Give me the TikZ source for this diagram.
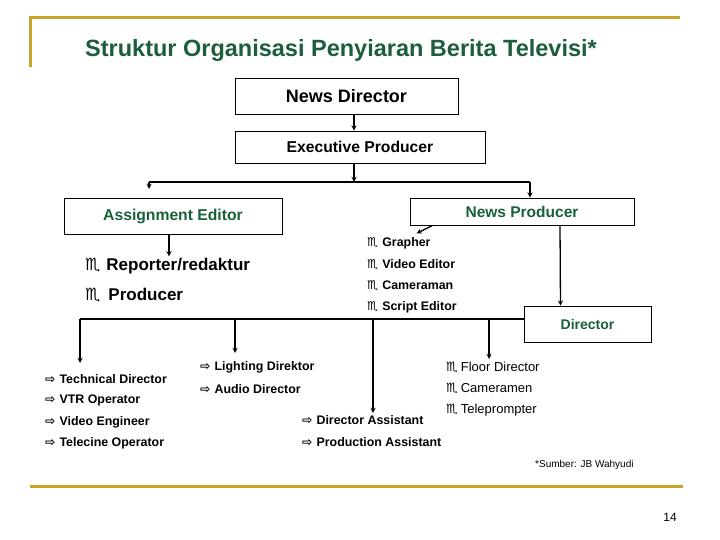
\documentclass[tikz,border=0pt]{standalone}
\usepackage{fontspec}
\setmainfont{Liberation Sans}
\newfontfamily\symfont{DejaVu Sans}
\usetikzlibrary{positioning}
\definecolor{titlegreen}{RGB}{28,94,60}
\definecolor{boxgreen}{RGB}{24,96,58}
\definecolor{framegold}{RGB}{201,163,42}
\newcommand{\scorp}{{\symfont\char"264F}}
\newcommand{\warr}{{\symfont\char"21E8}}
\newcommand{\fsz}[1]{\fontsize{#1}{#1}\selectfont}

\begin{document}
\begin{tikzpicture}[x=1pt, y=-1pt,
    boxnode/.style={rectangle, draw=black, line width=0.8pt, inner sep=0pt},
    plainline/.style={line width=1.3pt},
    conn/.style={line width=1.3pt, -stealth},
    bigitem/.style={anchor=west, inner sep=0pt, font=\bfseries\fsz{17}},
    smallitem/.style={anchor=west, inner sep=0pt, font=\bfseries\fsz{12.4}},
    flooritem/.style={anchor=west, inner sep=0pt, font=\fsz{13}}]

    \useasboundingbox (0,0) rectangle (720,540);

    % frame and title
    \draw[framegold, line width=3pt] (30,67) -- (30,18) -- (680,18);
    \draw[framegold, line width=3pt] (30,486) -- (683,486);
    \node[titlegreen, font=\bfseries\fsz{23.5}] (title) at (341,50) {Struktur Organisasi Penyiaran Berita Televisi*};

    % top of the chart
    \node[boxnode, minimum width=223pt, minimum height=36pt, font=\bfseries\fsz{18}] (newsdir) at (346.5,96) {News Director};
    \node[boxnode, minimum width=250pt, minimum height=32pt, font=\bfseries\fsz{15.7}] (execprod) at (360,147) {Executive Producer};
    \node[boxnode, minimum width=218pt, minimum height=36pt, text=boxgreen, font=\bfseries\fsz{15.7}] (assign) at (173,216) {Assignment Editor};
    \node[boxnode, minimum width=224pt, minimum height=27pt, text=boxgreen, font=\bfseries\fsz{15.5}] (newsprod) at (522,211.5) {News Producer};
    \node[boxnode, minimum width=127pt, minimum height=36pt, text=boxgreen, font=\bfseries\fsz{14}] (director) at (587.5,324) {Director};

    \coordinate (spine) at (354,182);
    \coordinate (brl) at (149,182);
    \coordinate (brr) at (530,182);
    \draw[conn] (newsdir.south -| spine) -- (execprod.north -| spine);
    \draw[conn] (execprod.south -| spine) -- (spine);
    \draw[plainline] (brl) -- (brr);
    \draw[conn] (brl) -- ++(0,7);
    \draw[conn] (brr) -- (brr |- newsprod.north);

    % assignment editor staff
    \node[bigitem] (reporter) at (85,266) {\scorp\hspace{6pt}Reporter/redaktur};
    \node[bigitem] (producer) at (85,295) {\scorp\hspace{8pt}Producer};
    \draw[conn] ([xshift=-4pt]assign.south) -- ++(0,22);

    % news producer staff
    \node[smallitem] (grapher) at (367,243) {\scorp\hspace{4pt}Grapher};
    \node[smallitem, below=21.5pt of grapher.west, anchor=west] (videoed) {\scorp\hspace{4pt}Video Editor};
    \node[smallitem, below=21.5pt of videoed.west, anchor=west] (camman) {\scorp\hspace{4pt}Cameraman};
    \node[smallitem, below=21.5pt of camman.west, anchor=west] (scripted) {\scorp\hspace{4pt}Script Editor};
    \draw[conn] ([xshift=23pt]newsprod.south west) -- ++(-16,8);
    \draw[conn] ([xshift=38pt]newsprod.south) -- ([xshift=-27pt]director.north);

    % director bar
    \coordinate (barl) at (80,319);
    \coordinate (bar2) at (235,319);
    \coordinate (bar3) at (373,319);
    \coordinate (bar4) at (489,319);
    \draw[plainline] (director.west |- barl) -- (barl);
    \draw[conn] (barl) -- ++(0,44);
    \draw[conn] (bar2) -- ++(0,34);
    \draw[conn] (bar3) -- ++(0,94);
    \draw[conn] (bar4) -- ++(0,40);

    % technical crew
    \node[smallitem] (techdir) at (45,379) {\warr\hspace{4pt}Technical Director};
    \node[smallitem, below=21.5pt of techdir.west, anchor=west] (vtrop) {\warr\hspace{4pt}VTR Operator};
    \node[smallitem, below=21.5pt of vtrop.west, anchor=west] (videng) {\warr\hspace{4pt}Video Engineer};
    \node[smallitem, below=21.5pt of videng.west, anchor=west] (telecine) {\warr\hspace{4pt}Telecine Operator};

    \node[smallitem] (lighting) at (200,367) {\warr\hspace{4pt}Lighting Direktor};
    \node[smallitem, below=22pt of lighting.west, anchor=west] (audio) {\warr\hspace{4pt}Audio Director};

    \node[smallitem] (dirassist) at (302,420) {\warr\hspace{4pt}Director Assistant};
    \node[smallitem, below=22pt of dirassist.west, anchor=west] (prodassist) {\warr\hspace{4pt}Production Assistant};

    \node[flooritem] (floordir) at (446,367) {\scorp\hspace{3pt}Floor Director};
    \node[flooritem, below=21.5pt of floordir.west, anchor=west] (cameramen) {\scorp\hspace{3pt}Cameramen};
    \node[flooritem, below=21.5pt of cameramen.west, anchor=west] (telep) {\scorp\hspace{3pt}Teleprompter};

    % footer
    \node[anchor=west, inner sep=0pt, font=\fsz{10}] (source) at (535,465) {*Sumber: JB Wahyudi};
    \node[inner sep=0pt, font=\fsz{12}] (pagenum) at (670,517) {14};

\end{tikzpicture}
\end{document}
